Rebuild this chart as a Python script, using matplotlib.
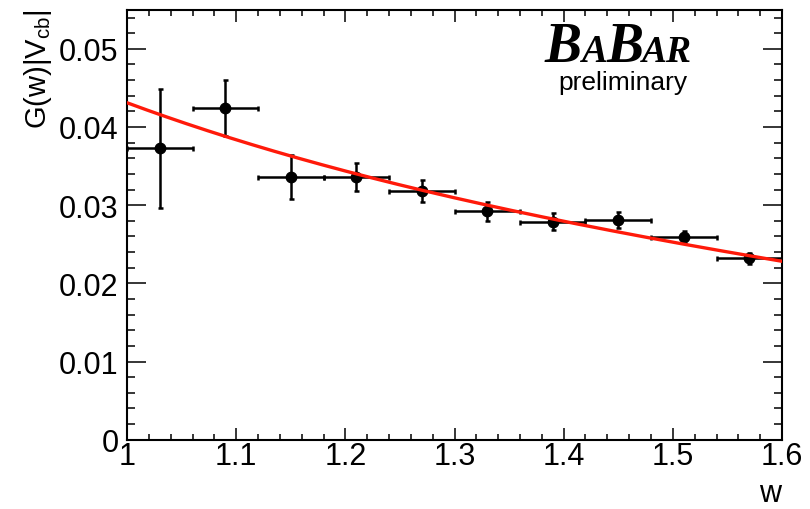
import numpy as np
import matplotlib
matplotlib.use("Agg")
import matplotlib.pyplot as plt
from matplotlib.ticker import MultipleLocator, FixedLocator, FixedFormatter

plt.rcParams['font.family'] = ['Liberation Sans', 'DejaVu Sans']
plt.rcParams['mathtext.default'] = 'regular'

# Measured G(w)|Vcb| in bins of w
w_centers = [1.03, 1.09, 1.15, 1.21, 1.27, 1.33, 1.39, 1.45, 1.51, 1.57]
w_halfwidth = [0.03] * 10
g_values = [0.0373, 0.0424, 0.0336, 0.0336, 0.0318, 0.0292, 0.0279, 0.0281, 0.0259, 0.0232]
g_errors = [0.0076, 0.0036, 0.0028, 0.0018, 0.0014, 0.0012, 0.0011, 0.0010, 0.0008, 0.0007]

# CLN fit parameters
g1_vcb = 0.0431
rho2 = 1.20

x_ticks = [1.0, 1.1, 1.2, 1.3, 1.4, 1.5, 1.6]
x_ticklabels = ['1', '1.1', '1.2', '1.3', '1.4', '1.5', '1.6']
y_ticks = [0.0, 0.01, 0.02, 0.03, 0.04, 0.05]
y_ticklabels = ['0', '0.01', '0.02', '0.03', '0.04', '0.05']


def cln(w, g1, r2):
    z = (np.sqrt(w + 1) - np.sqrt(2)) / (np.sqrt(w + 1) + np.sqrt(2))
    return g1 * (1 - 8 * r2 * z + (51 * r2 - 10) * z**2 - (252 * r2 - 84) * z**3)


W, H = 810, 510
fig = plt.figure(figsize=(W / 100, H / 100), dpi=100)
ax = fig.add_axes([127 / W, 1 - 440.7 / H, (782 - 127) / W, (440.7 - 10.7) / H])

ax.errorbar(w_centers, g_values, xerr=w_halfwidth, yerr=g_errors,
            fmt='o', color='black', markersize=7.5, elinewidth=1.8,
            capsize=1.8, capthick=1.8, zorder=3)

wf = np.linspace(1.0, 1.6, 300)
ax.plot(wf, cln(wf, g1_vcb, rho2), color='#ff1a0a', lw=2.4, zorder=4)

ax.set_xlim(1.0, 1.6)
ax.set_ylim(0.0, 0.055)

ax.xaxis.set_major_locator(FixedLocator(x_ticks))
ax.xaxis.set_major_formatter(FixedFormatter(x_ticklabels))
ax.yaxis.set_major_locator(FixedLocator(y_ticks))
ax.yaxis.set_major_formatter(FixedFormatter(y_ticklabels))
ax.xaxis.set_minor_locator(MultipleLocator(0.02))
ax.yaxis.set_minor_locator(MultipleLocator(0.002))

ax.tick_params(which='both', direction='in', top=True, right=True, width=1.1, colors='black')
ax.tick_params(axis='x', which='major', length=8.6, pad=1, labelsize=22)
ax.tick_params(axis='x', which='minor', length=4.3)
ax.tick_params(axis='y', which='major', length=13.7, pad=6, labelsize=22)
ax.tick_params(axis='y', which='minor', length=5.8)
for s in ax.spines.values():
    s.set_linewidth(1.5)

# axis titles
fig.text(38 / W, 1 - 9 / H, r'G(w)|V$_{cb}$|', rotation=90, ha='center', va='top', fontsize=21)
fig.text(781 / W, 1 - 509 / H, 'w', ha='right', va='bottom', fontsize=22)

# experiment logo
serif = dict(family='Liberation Serif', weight='bold', style='italic', va='baseline')
yb = 1 - 62 / H
fig.text(545 / W, yb, 'B', fontsize=40, **serif)
fig.text(581 / W, yb, 'A', fontsize=28, **serif)
fig.text(607 / W, yb, 'B', fontsize=40, **serif)
fig.text(642 / W, yb, 'AR', fontsize=27, **serif)
fig.text(623 / W, 1 - 90 / H, 'preliminary', ha='center', va='baseline', fontsize=19)

fig.savefig('out.png', dpi=100)
